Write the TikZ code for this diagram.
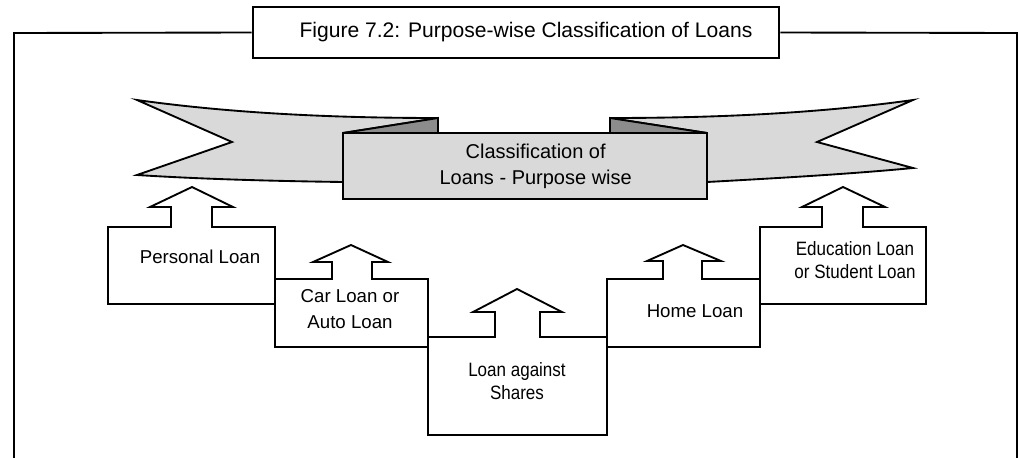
\documentclass[tikz,border=0pt]{standalone}
\usepackage{fontspec}
\setmainfont{Liberation Sans}
\newfontfamily\narrowfont[FakeStretch=0.88]{Liberation Sans}
\usetikzlibrary{positioning}

\begin{document}
\begin{tikzpicture}
    [
        x=0.75pt, y=-0.75pt, line join=miter,
        frame_line/.style={line width=1.4pt, color=black},
        step_box/.style={line width=1.4pt, draw=black, fill=white},
        ribbon/.style={line width=1.4pt, draw=black, fill=black!15},
        ribbon_fold/.style={line width=1.4pt, draw=black, fill=black!45},
        loan_text/.style={font=\fontsize{14}{20}\selectfont, align=center, inner sep=0pt},
        narrow_text/.style={font=\narrowfont\fontsize{14.5}{17}\selectfont, align=center, inner sep=0pt},
    ]
        \useasboundingbox (0,0) rectangle (1020,457);

        % title and outer frame
        \node[draw, line width=1.4pt, minimum width=395pt, minimum height=38pt, font=\fontsize{15.8}{18}\selectfont] (title) at (516,32.5) {\hspace*{15pt}Figure 7.2: Purpose-wise Classification of Loans} ;
        \draw[frame_line] (title.west) -- (14,33) -- (14,460) ;
        \draw[frame_line] (title.east) -- (1017,33) -- (1017,460) ;

        % ribbon
        \draw[ribbon] (137,100) .. controls (230,113) and (330,118) .. (438,118) -- (343,133) -- (343,182) .. controls (270,181) and (200,179) .. (137,175) -- (232,142) -- cycle ;
        \draw[ribbon] (913,100) .. controls (820,113) and (720,118) .. (610,118) -- (707,133) -- (707,182) .. controls (780,178) and (850,174) .. (913,168) -- (817,142) -- cycle ;
        \draw[ribbon_fold] (343,133) -- (438,118) -- (438,133) -- cycle ;
        \draw[ribbon_fold] (707,133) -- (610,118) -- (610,133) -- cycle ;
        \node[ribbon, minimum width=273pt, minimum height=49.5pt, font=\fontsize{15}{19.5}\selectfont, align=center, inner sep=0pt] (cls) at (525,166) {\hspace*{16pt}Classification of\\\hspace*{16pt}Loans - Purpose wise} ;

        % steps with arrows
        \draw[step_box] (171,227) -- (108,227) -- (108,304) -- (275,304) -- (275,227) -- (212,227) -- (212,207) -- (233,207) -- (192,187) -- (150,207) -- (171,207) -- cycle ;
        \draw[step_box] (332,279) -- (275,279) -- (275,347) -- (428,347) -- (428,279) -- (372,279) -- (372,262) -- (388,262) -- (351,245) -- (313,262) -- (332,262) -- cycle ;
        \draw[step_box] (495,337) -- (428,337) -- (428,435) -- (607,435) -- (607,337) -- (540,337) -- (540,312) -- (562,312) -- (517,289) -- (473,312) -- (495,312) -- cycle ;
        \draw[step_box] (663,279) -- (607,279) -- (607,347) -- (760,347) -- (760,279) -- (702,279) -- (702,261) -- (721,261) -- (683,245) -- (647,261) -- (663,261) -- cycle ;
        \draw[step_box] (822,227) -- (760,227) -- (760,304) -- (926,304) -- (926,227) -- (863,227) -- (863,207) -- (885,207) -- (843,187) -- (802,207) -- (822,207) -- cycle ;

        \node[loan_text] (personal) at (200,257) {Personal Loan} ;
        \node[loan_text] (car) at (350,309) {Car Loan or\\Auto Loan} ;
        \node[narrow_text] (shares) at (517,381) {Loan against\\Shares} ;
        \node[loan_text] (home) at (695,311) {Home Loan} ;
        \node[narrow_text] (education) at (855,260) {Education Loan\\or Student Loan} ;
    \end{tikzpicture}
\end{document}
